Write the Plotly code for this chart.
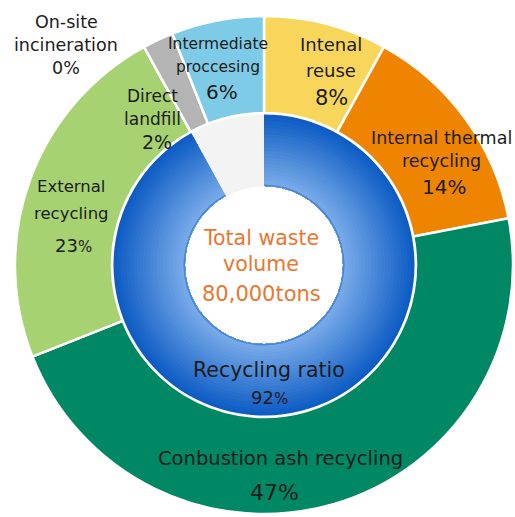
import numpy as np
import plotly.graph_objects as go

W, H = 515, 517

# Outer ring: disposal / recycling routes, share of total waste (%)
route_labels = ["Intenal reuse", "Internal thermal recycling", "Conbustion ash recycling",
                "External recycling", "On-site incineration", "Direct landfill",
                "Intermediate proccesing"]
route_values = [8, 14, 47, 23, 0, 2, 6]
route_colors = ["#F8D65B", "#EF8400", "#008763", "#A6D271", "#C4C4C4", "#B4B4B4", "#7ECBE7"]

# Inner ring: recycled share vs. remainder (%)
ratio_labels = ["Recycling ratio", "Other"]
ratio_values = [92, 8]

total_waste_label = ["Total waste", "volume"]
total_waste_value = "80,000tons"

# ring geometry in pixels
cx, cy = 264, 265
r_outer, r_mid, r_hole = 249, 152, 79


def dom(r):
    return dict(x=[(cx - r) / W, (cx + r) / W], y=[1 - (cy + r) / H, 1 - (cy - r) / H])


fig = go.Figure()

fig.add_trace(go.Pie(
    labels=route_labels, values=route_values, sort=False, direction="clockwise",
    rotation=0, hole=r_mid / r_outer, domain=dom(r_outer), textinfo="none",
    marker=dict(colors=route_colors, line=dict(color="white", width=2.5)),
    hoverinfo="label+value", showlegend=False,
))

# radial blue shading of the recycling ring, built from concentric layers
dark = np.array([0x0E, 0x5C, 0xC4])
light = np.array([0x7A, 0xAC, 0xE9])
n_layers = 22
radii = np.linspace(r_mid - 1.5, r_hole + 2.5, n_layers)
for i, r in enumerate(radii):
    t = i / (n_layers - 1)
    c = dark + (light - dark) * t
    col = "rgb(%d,%d,%d)" % tuple(c.round().astype(int))
    fig.add_trace(go.Pie(
        labels=ratio_labels, values=ratio_values, sort=False, direction="clockwise",
        rotation=0, hole=r_hole / r, domain=dom(r), textinfo="none",
        marker=dict(colors=[col, "#F3F3F3"], line=dict(width=0)),
        hoverinfo="label+value", showlegend=False,
    ))
# thin darker rim around the centre disc
fig.add_trace(go.Pie(
    labels=ratio_labels, values=ratio_values, sort=False, direction="clockwise",
    rotation=0, hole=r_hole / (r_hole + 1.5), domain=dom(r_hole + 1.5), textinfo="none",
    marker=dict(colors=["#4A86D8", "#F3F3F3"], line=dict(width=0)),
    hoverinfo="skip", showlegend=False,
))

FONT = "DejaVu Sans"
INK = "#1C1C1C"
ORANGE = "#EA7630"


def pct(v, small=None):
    if small:
        return "%d<span style='font-size:%dpx'>%%</span>" % (v, small)
    return "%d%%" % v


def add_text(x, y, text, size, color=INK):
    fig.add_annotation(x=x / W, y=1 - y / H, xref="paper", yref="paper",
                       text=text, showarrow=False, xanchor="center", yanchor="middle",
                       font=dict(family=FONT, size=size, color=color))


v = dict(zip(route_labels, route_values))

add_text(66, 22, "On-site", 17.5)
add_text(66, 45, "incineration", 17.5)
add_text(66, 68, pct(v["On-site incineration"]), 17.5)

add_text(218, 44, "Intermediate", 15.5)
add_text(218, 67, "proccesing", 15.5)
add_text(222, 92, pct(v["Intermediate proccesing"]), 20)

add_text(331, 44, "Intenal", 18)
add_text(331, 70, "reuse", 18)
add_text(331, 98, pct(v["Intenal reuse"]), 21)

add_text(441, 138, "Internal thermal", 17.5)
add_text(441, 161, "recycling", 17.5)
add_text(444, 187, pct(v["Internal thermal recycling"]), 20)

add_text(152, 96, "Direct", 17)
add_text(152, 119, "landfill", 17)
add_text(157, 142, pct(v["Direct landfill"]), 19)

add_text(71, 187, "External", 16.5)
add_text(71, 213, "recycling", 16.5)
add_text(73, 245, pct(v["External recycling"], 15), 18)

add_text(280, 458, "Conbustion ash recycling", 19.5)
add_text(274, 492, pct(v["Conbustion ash recycling"]), 22)

add_text(269, 370, ratio_labels[0], 20.5)
add_text(269, 397, pct(ratio_values[0], 15), 18)

add_text(261, 238, total_waste_label[0], 20.5, ORANGE)
add_text(261, 264, total_waste_label[1], 20.5, ORANGE)
add_text(261, 294, total_waste_value, 21, ORANGE)

fig.update_layout(
    width=W, height=H, margin=dict(l=0, r=0, t=0, b=0),
    paper_bgcolor="white", plot_bgcolor="white",
)

fig.write_html("out.html")
